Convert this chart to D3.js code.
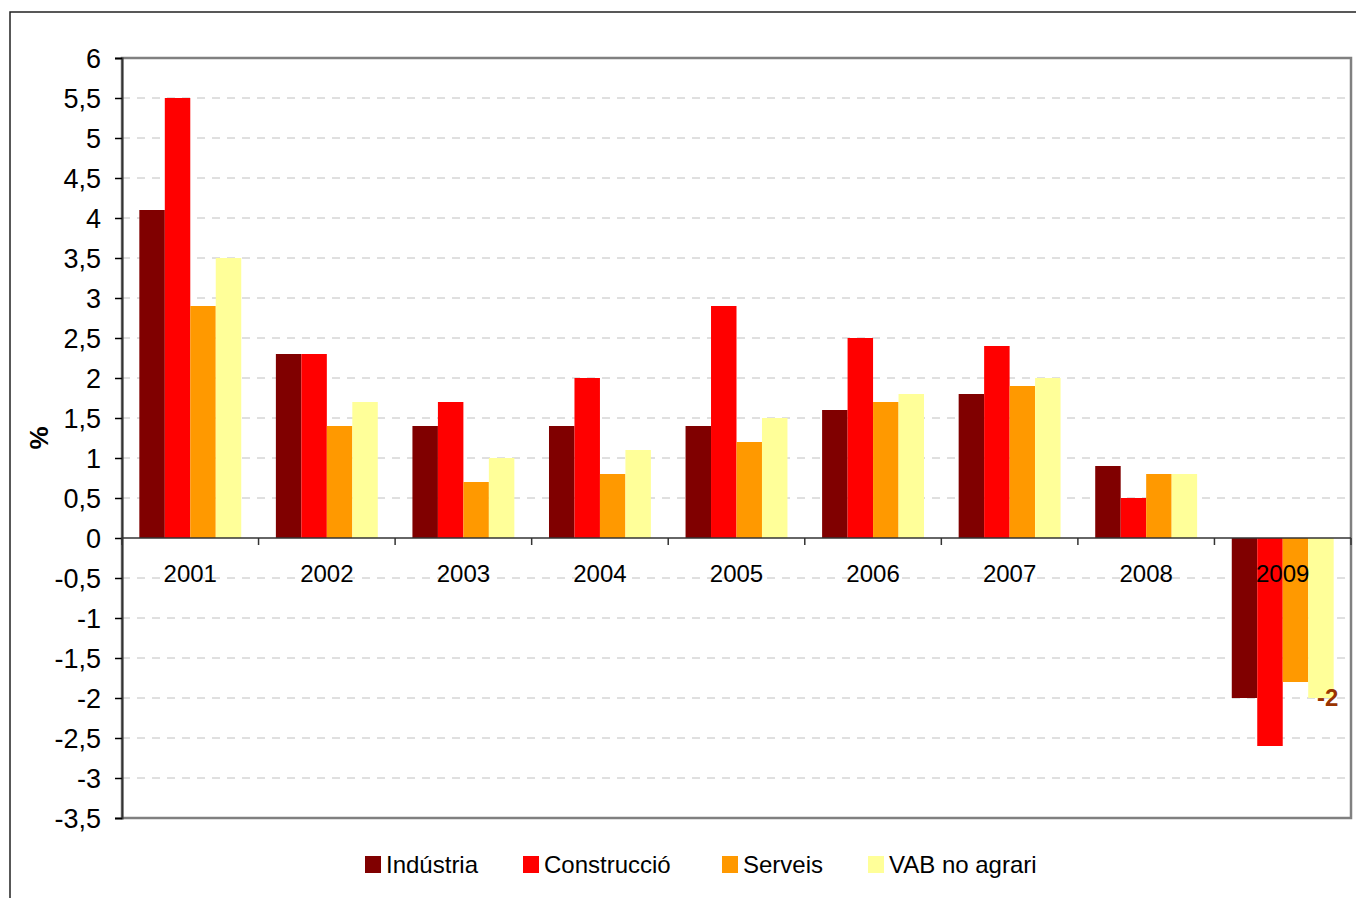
<!DOCTYPE html>
<html>
<head>
<meta charset="utf-8">
<script src="https://cdn.jsdelivr.net/npm/d3@7"></script>
<style>
  body { margin: 0; background: #fff; }
  text { font-family: "Liberation Sans", Arial, sans-serif; }
</style>
</head>
<body>
<script>
let years = ['2001', '2002', '2003', '2004', '2005', '2006', '2007', '2008', '2009'];
let seriesNames = ['Indústria', 'Construcció', 'Serveis', 'VAB no agrari'];
let industria    = [4.1, 2.3, 1.4, 1.4, 1.4, 1.6, 1.8, 0.9, -2.0];
let construccio  = [5.5, 2.3, 1.7, 2.0, 2.9, 2.5, 2.4, 0.5, -2.6];
let serveis      = [2.9, 1.4, 0.7, 0.8, 1.2, 1.7, 1.9, 0.8, -1.8];
let vab          = [3.5, 1.7, 1.0, 1.1, 1.5, 1.8, 2.0, 0.8, -2.0];
let yTicks = [-3.5, -3, -2.5, -2, -1.5, -1, -0.5, 0, 0.5, 1, 1.5, 2, 2.5, 3, 3.5, 4, 4.5, 5, 5.5, 6];
let colors = ['#800000', '#ff0000', '#ff9900', '#ffff99'];

let seriesValues = [industria, construccio, serveis, vab];

let width = 1356;
let height = 898;
let margin = {left: 122, top: 58, right: 5, bottom: 80};

let svg = d3.select('body').append('svg')
    .attr('width', width)
    .attr('height', height);

// outer chart frame
svg.append('rect')
    .attr('x', 10).attr('y', 12)
    .attr('width', width + 20).attr('height', height + 20)
    .attr('fill', 'none')
    .attr('stroke', '#222')
    .attr('stroke-width', 1.5);

let x = d3.scaleBand()
    .domain(years)
    .range([margin.left, width - margin.right]);

let xInner = d3.scaleBand()
    .domain(seriesNames)
    .range([0, x.bandwidth()])
    .paddingOuter(0.68)
    .paddingInner(0);

let y = d3.scaleLinear()
    .domain([-3.5, 6])
    .range([height - margin.bottom, margin.top]);

let fmt = d => d.toString().replace('.', ',');

// grid lines
svg.selectAll('.grid')
    .data(yTicks.filter(d => d !== 6 && d !== -3.5 && d !== 0))
    .join('line')
    .attr('class', 'grid')
    .attr('x1', margin.left)
    .attr('x2', width - margin.right - 2)
    .attr('y1', d => y(d))
    .attr('y2', d => y(d))
    .attr('stroke', '#c0c0c0')
    .attr('stroke-dasharray', '8,7');

// plot frame
svg.append('rect')
    .attr('x', margin.left)
    .attr('y', y(6))
    .attr('width', width - margin.right - margin.left)
    .attr('height', y(-3.5) - y(6))
    .attr('fill', 'none')
    .attr('stroke', '#808080')
    .attr('stroke-width', 2.5);

// bars
let groups = svg.selectAll('.year')
    .data(years)
    .join('g')
    .attr('class', 'year')
    .attr('transform', d => `translate(${x(d)},0)`);

groups.selectAll('rect')
    .data((yr, i) => seriesNames.map((s, j) => ({s: s, j: j, v: seriesValues[j][i]})))
    .join('rect')
    .attr('x', d => xInner(d.s))
    .attr('width', xInner.bandwidth())
    .attr('y', d => y(Math.max(0, d.v)))
    .attr('height', d => Math.abs(y(d.v) - y(0)))
    .attr('fill', d => colors[d.j]);

// y axis
let yAxis = d3.axisLeft(y)
    .tickValues(yTicks)
    .tickSize(7)
    .tickFormat(fmt);

let gy = svg.append('g')
    .attr('transform', `translate(${margin.left},0)`)
    .call(yAxis);
gy.select('.domain').attr('stroke', '#333').attr('stroke-width', 2);
gy.selectAll('.tick line').attr('stroke', '#000').attr('stroke-width', 1.5);
gy.selectAll('.tick text')
    .style('font-size', '27px')
    .attr('fill', '#000')
    .attr('x', -21)
    .attr('dy', '0.36em');

// x axis at zero
let xTicks = years.map(d => x(d)).concat([x(years[years.length - 1]) + x.bandwidth()]);
svg.append('line')
    .attr('x1', margin.left)
    .attr('x2', width - margin.right)
    .attr('y1', y(0))
    .attr('y2', y(0))
    .attr('stroke', '#333')
    .attr('stroke-width', 1.5);
svg.selectAll('.xtick')
    .data(xTicks)
    .join('line')
    .attr('class', 'xtick')
    .attr('x1', d => d)
    .attr('x2', d => d)
    .attr('y1', y(0))
    .attr('y2', y(0) + 7)
    .attr('stroke', '#333')
    .attr('stroke-width', 1.5);
svg.selectAll('.xlabel')
    .data(years)
    .join('text')
    .attr('class', 'xlabel')
    .attr('x', d => x(d) + x.bandwidth() / 2)
    .attr('y', y(0) + 44)
    .attr('text-anchor', 'middle')
    .style('font-size', '24px')
    .text(d => d);

// y title
svg.append('text')
    .attr('transform', `translate(48,${y(1.25)}) rotate(-90)`)
    .attr('text-anchor', 'middle')
    .style('font-size', '26px')
    .attr('font-weight', 'bold')
    .text('%');

// data label for last VAB value
let lastIdx = years.length - 1;
svg.append('text')
    .attr('x', x(years[lastIdx]) + xInner(seriesNames[3]) + xInner.bandwidth() - 6)
    .attr('y', y(vab[lastIdx]) + 8)
    .attr('text-anchor', 'middle')
    .style('font-size', '24px')
    .attr('font-weight', 'bold')
    .attr('fill', '#993300')
    .text(fmt(vab[lastIdx]));

// legend
let legendX = [365, 523, 722, 868];
let legend = svg.selectAll('.legend')
    .data(seriesNames)
    .join('g')
    .attr('class', 'legend')
    .attr('transform', (d, i) => `translate(${legendX[i]},856)`);
legend.append('rect')
    .attr('width', 16)
    .attr('height', 17)
    .attr('fill', (d, i) => colors[i]);
legend.append('text')
    .attr('x', 21)
    .attr('y', 17)
    .style('font-size', '24px')
    .text(d => d);
</script>
</body>
</html>
